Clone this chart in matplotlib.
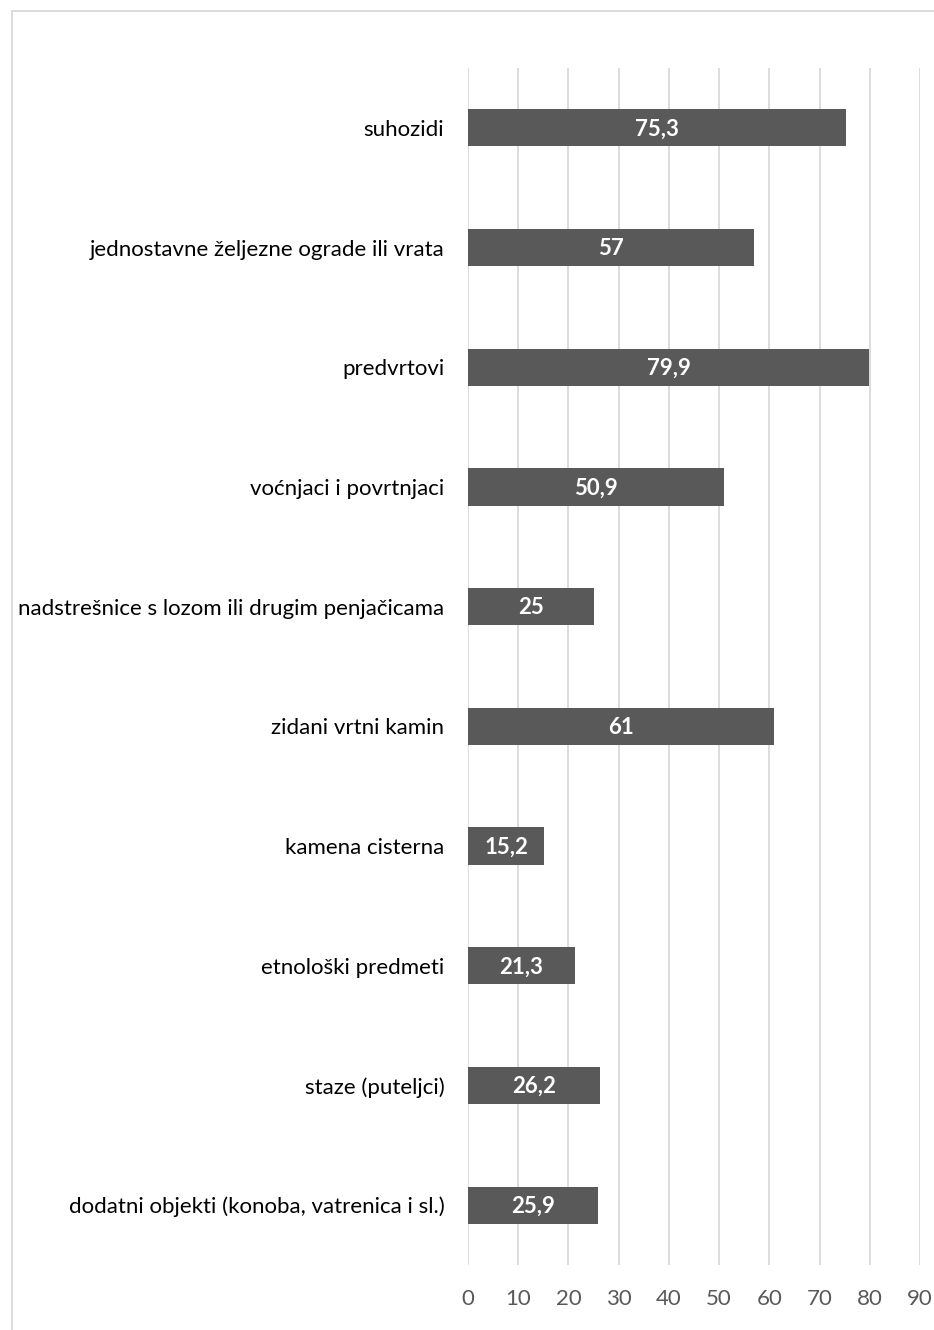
import matplotlib
matplotlib.use("Agg")
import matplotlib.pyplot as plt
from matplotlib.lines import Line2D

# data, top to bottom
categories = [
    "suhozidi",
    "jednostavne željezne ograde ili vrata",
    "predvrtovi",
    "voćnjaci i povrtnjaci",
    "nadstrešnice s lozom ili drugim penjačicama",
    "zidani vrtni kamin",
    "kamena cisterna",
    "etnološki predmeti",
    "staze (puteljci)",
    "dodatni objekti (konoba, vatrenica i sl.)",
]
values = [75.3, 57, 79.9, 50.9, 25, 61, 15.2, 21.3, 26.2, 25.9]
x_ticks = [0, 10, 20, 30, 40, 50, 60, 70, 80, 90]

plt.rcParams["font.family"] = ["Lato", "DejaVu Sans"]

fig = plt.figure(figsize=(9.34, 13.30), dpi=100)
ax = fig.add_axes([468 / 934, 65 / 1330, 452 / 934, 1197 / 1330])

ypos = list(range(len(categories)))[::-1]
ax.barh(ypos, values, height=0.31, color="#595959", zorder=3)

for y, v in zip(ypos, values):
    lbl = ("%g" % v).replace(".", ",")
    ax.text(v / 2, y - 0.01, lbl, ha="center", va="center", color="white",
            fontsize=16, fontweight="bold", zorder=4)

ax.set_xlim(0, 90)
ax.set_ylim(-0.5, len(categories) - 0.5)
ax.set_xticks(x_ticks)
ax.set_xticklabels([str(t) for t in x_ticks], fontsize=16, color="#595959")
ax.set_yticks(ypos)
ax.set_yticklabels(categories, fontsize=16, color="black")
ax.tick_params(axis="x", length=0, pad=17.5)
ax.tick_params(axis="y", length=0, pad=17)
ax.grid(axis="x", color="#d9d9d9", linewidth=1.3, zorder=0)
for s in ax.spines.values():
    s.set_visible(False)

# chart border (top and left visible)
fig.add_artist(Line2D([11.5 / 934, 1], [1 - 11 / 1330, 1 - 11 / 1330],
                      color="#d9d9d9", linewidth=1.3, transform=fig.transFigure))
fig.add_artist(Line2D([11.5 / 934, 11.5 / 934], [0, 1 - 11 / 1330],
                      color="#d9d9d9", linewidth=1.3, transform=fig.transFigure))

fig.savefig("out.png", dpi=100)
